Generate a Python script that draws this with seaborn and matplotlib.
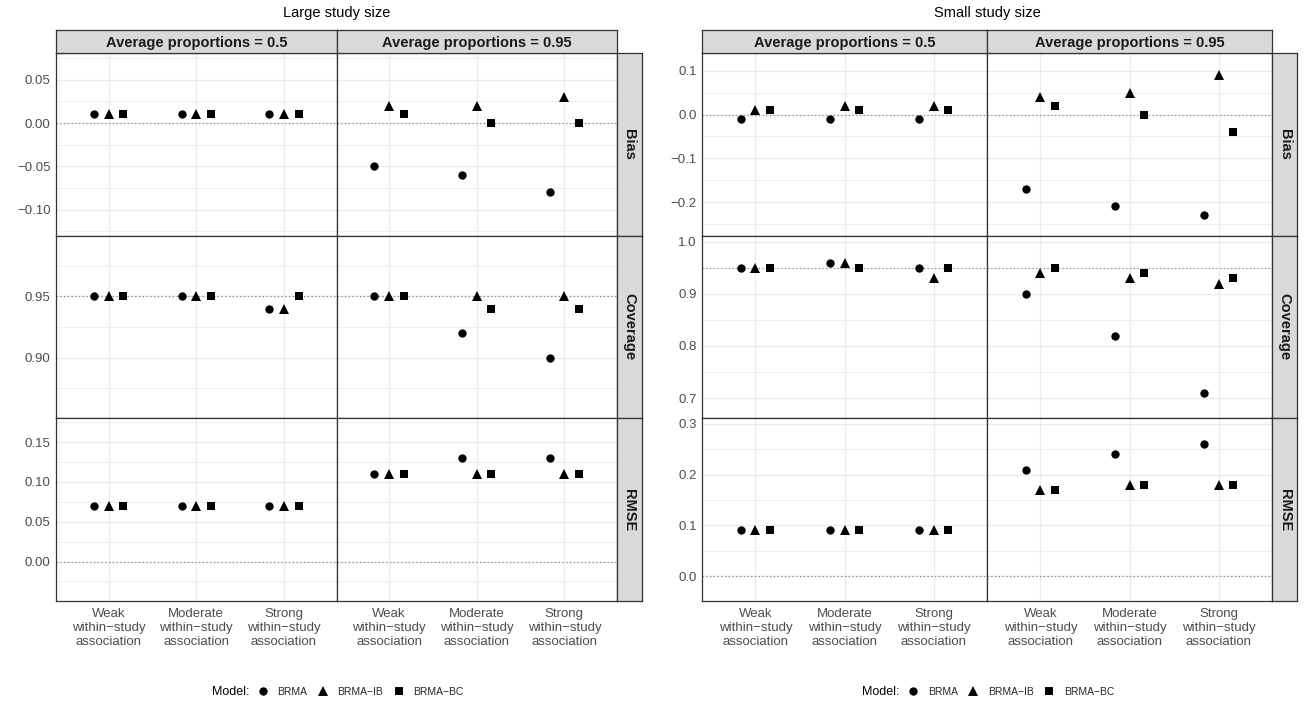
import matplotlib
matplotlib.use("Agg")
import pandas as pd
import matplotlib.pyplot as plt
from matplotlib.lines import Line2D
from matplotlib.ticker import MultipleLocator, FuncFormatter
import seaborn as sns

# ==============================
# Data
# ==============================
study_sizes = ["Large study size", "Small study size"]
proportions = ["Average proportions = 0.5", "Average proportions = 0.95"]
metrics = ["Bias", "Coverage", "RMSE"]
associations = [
    "Weak\nwithin\u2212study\nassociation",
    "Moderate\nwithin\u2212study\nassociation",
    "Strong\nwithin\u2212study\nassociation",
]
models = ["BRMA", "BRMA\u2212IB", "BRMA\u2212BC"]

# rows: Weak, Moderate, Strong ; columns: BRMA, BRMA-IB, BRMA-BC
large_bias_p50 = [[0.01, 0.01, 0.01], [0.01, 0.01, 0.01], [0.01, 0.01, 0.01]]
large_bias_p95 = [[-0.05, 0.02, 0.01], [-0.06, 0.02, 0.00], [-0.08, 0.03, 0.00]]
large_cover_p50 = [[0.95, 0.95, 0.95], [0.95, 0.95, 0.95], [0.94, 0.94, 0.95]]
large_cover_p95 = [[0.95, 0.95, 0.95], [0.92, 0.95, 0.94], [0.90, 0.95, 0.94]]
large_rmse_p50 = [[0.07, 0.07, 0.07], [0.07, 0.07, 0.07], [0.07, 0.07, 0.07]]
large_rmse_p95 = [[0.11, 0.11, 0.11], [0.13, 0.11, 0.11], [0.13, 0.11, 0.11]]

small_bias_p50 = [[-0.01, 0.01, 0.01], [-0.01, 0.02, 0.01], [-0.01, 0.02, 0.01]]
small_bias_p95 = [[-0.17, 0.04, 0.02], [-0.21, 0.05, 0.00], [-0.23, 0.09, -0.04]]
small_cover_p50 = [[0.95, 0.95, 0.95], [0.96, 0.96, 0.95], [0.95, 0.93, 0.95]]
small_cover_p95 = [[0.90, 0.94, 0.95], [0.82, 0.93, 0.94], [0.71, 0.92, 0.93]]
small_rmse_p50 = [[0.09, 0.09, 0.09], [0.09, 0.09, 0.09], [0.09, 0.09, 0.09]]
small_rmse_p95 = [[0.21, 0.17, 0.17], [0.24, 0.18, 0.18], [0.26, 0.18, 0.18]]

reference_lines = {"Bias": 0.0, "Coverage": 0.95, "RMSE": 0.0}

tables = {
    ("Large study size", "Bias"): [large_bias_p50, large_bias_p95],
    ("Large study size", "Coverage"): [large_cover_p50, large_cover_p95],
    ("Large study size", "RMSE"): [large_rmse_p50, large_rmse_p95],
    ("Small study size", "Bias"): [small_bias_p50, small_bias_p95],
    ("Small study size", "Coverage"): [small_cover_p50, small_cover_p95],
    ("Small study size", "RMSE"): [small_rmse_p50, small_rmse_p95],
}

records = []
for (study, metric), pair in tables.items():
    for prop, table in zip(proportions, pair):
        for assoc, vals in zip(associations, table):
            for model, v in zip(models, vals):
                records.append(dict(study=study, metric=metric, proportion=prop,
                                    association=assoc, model=model, value=v))
df = pd.DataFrame(records)

# ==============================
# Axis scales (free y per row)
# ==============================
y_limits = {
    ("Large study size", "Bias"): (-0.130, 0.081),
    ("Large study size", "Coverage"): (0.8505, 0.9995),
    ("Large study size", "RMSE"): (-0.0495, 0.180),
    ("Small study size", "Bias"): (-0.277, 0.141),
    ("Small study size", "Coverage"): (0.661, 1.012),
    ("Small study size", "RMSE"): (-0.049, 0.311),
}
y_step = {"Large study size": 0.05, "Small study size": 0.1}
y_decimals = {"Large study size": 2, "Small study size": 1}

# ==============================
# Layout (pixels of a 1308x708 canvas)
# ==============================
W, H = 1308, 708
blocks = {
    "Large study size": (56, 336.5, 617, 642),
    "Small study size": (702, 987, 1272, 1297),
}
row_edges = [53, 235.7, 418.3, 601]
strip_top = 30

GRID = "#EBEBEB"
DARK = "#333333"
STRIP = "#D9D9D9"
marker_sizes = {"o": 6, "^": 7.5, "s": 6}


def add_ax(x0, y0, x1, y1):
    return fig.add_axes([x0 / W, 1 - y1 / H, (x1 - x0) / W, (y1 - y0) / H])


def make_formatter(dec):
    def f(v, pos):
        s = f"{round(v, 6) + 0.0:.{dec}f}"
        return s.replace("-", "\u2212")
    return FuncFormatter(f)


sns.set_theme(style="white")
plt.rcParams["font.family"] = ["Liberation Sans", "DejaVu Sans"]

fig = plt.figure(figsize=(W / 100, H / 100), dpi=100)
palette = {m: "black" for m in models}

for study in study_sizes:
    x0, xm, x1, xs = blocks[study]
    col_edges = [(x0, xm), (xm, x1)]

    for r, metric in enumerate(metrics):
        yt, yb = row_edges[r], row_edges[r + 1]
        for c, prop in enumerate(proportions):
            xl, xr = col_edges[c]
            ax = add_ax(xl, yt, xr, yb)
            sub = df[(df["study"] == study) & (df["metric"] == metric) & (df["proportion"] == prop)]
            ax.axhline(reference_lines[metric], color="#8C8C8C", lw=0.9,
                       linestyle=(0, (1, 2)), zorder=1.5)
            sns.pointplot(
                data=sub, x="association", y="value", hue="model",
                order=associations, hue_order=models,
                markers=["o", "^", "s"], linestyles="none", dodge=0.334,
                palette=palette, errorbar=None, markersize=6,
                markeredgewidth=0, legend=False, ax=ax,
            )
            for ln in ax.lines[1:]:
                ln.set_zorder(3)
                mk = ln.get_marker()
                if mk in marker_sizes:
                    ln.set_markersize(marker_sizes[mk])
            ax.set_xlim(-0.6, 2.6)
            ax.set_ylim(*y_limits[(study, metric)])
            ax.yaxis.set_major_locator(MultipleLocator(y_step[study]))
            ax.yaxis.set_minor_locator(MultipleLocator(y_step[study] / 2))
            ax.yaxis.set_major_formatter(make_formatter(y_decimals[study]))
            ax.set_axisbelow(True)
            ax.grid(True, which="major", axis="both", color=GRID, lw=0.9)
            ax.grid(True, which="minor", axis="y", color=GRID, lw=0.6)
            ax.set_xlabel("")
            ax.set_ylabel("")
            for sp in ax.spines.values():
                sp.set_visible(True)
                sp.set_color(DARK)
                sp.set_linewidth(0.9)
            ax.tick_params(axis="both", which="major", length=2.3, width=0.8,
                           color=DARK, labelcolor="#4D4D4D", labelsize=9.5, pad=1.5)
            ax.tick_params(axis="x", which="major", pad=2.8)
            ax.tick_params(axis="y", which="minor", length=0)
            if c == 1:
                ax.tick_params(axis="y", which="major", length=0, labelleft=False)
            if r < 2:
                ax.tick_params(axis="x", which="major", length=0, labelbottom=False)
            else:
                ax.set_xticks(range(len(associations)))
                ax.set_xticklabels(associations, linespacing=1.2)

        # right strip for the row
        sax = add_ax(x1, yt, xs, yb)
        sax.set_facecolor(STRIP)
        sax.set_xticks([])
        sax.set_yticks([])
        for sp in sax.spines.values():
            sp.set_color(DARK)
            sp.set_linewidth(0.9)
        sax.text(0.5, 0.5, metric, rotation=-90, ha="center", va="center",
                 fontsize=10.5, fontweight="bold", color="#1A1A1A", transform=sax.transAxes)

    # top strips
    for c, prop in enumerate(proportions):
        xl, xr = col_edges[c]
        tax = add_ax(xl, strip_top, xr, row_edges[0])
        tax.set_facecolor(STRIP)
        tax.set_xticks([])
        tax.set_yticks([])
        for sp in tax.spines.values():
            sp.set_color(DARK)
            sp.set_linewidth(0.9)
        tax.text(0.5, 0.45, prop, ha="center", va="center", fontsize=10.5,
                 fontweight="bold", color="#1A1A1A", transform=tax.transAxes)

    # block title
    xc = (x0 + x1) / 2
    fig.text(xc / W, 1 - 13 / H, study, ha="center", va="center", fontsize=10.5, color="black")

    # legend
    fig.text((xc - 87.5) / W, 1 - 692 / H, "Model:", ha="right", va="center",
             fontsize=9, color="black")
    handles = [
        Line2D([], [], linestyle="none", marker=mk, color="black",
               markersize=marker_sizes[mk], markeredgewidth=0)
        for mk in ["o", "^", "s"]
    ]
    fig.legend(handles, models, loc="center left",
               bbox_to_anchor=((xc - 79) / W, 1 - 692 / H), ncol=3, frameon=False,
               fontsize=7.5, handlelength=1.0, handletextpad=0.9, columnspacing=1.0,
               borderpad=0, borderaxespad=0)

fig.savefig("out.png", dpi=100)
